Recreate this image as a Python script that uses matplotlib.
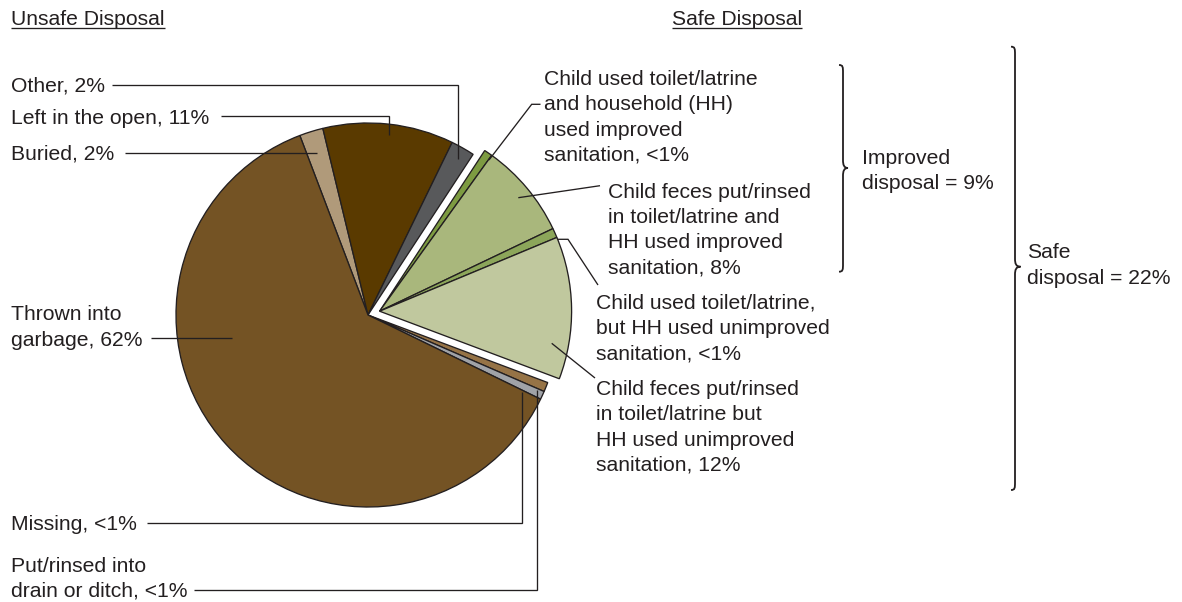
import matplotlib
matplotlib.use("Agg")
import matplotlib.pyplot as plt
from matplotlib.path import Path
from matplotlib.patches import PathPatch
import numpy as np

W, H = 1182, 602

# Child feces disposal categories, listed clockwise from the top of the pie
categories = [
    "Buried",
    "Left in the open",
    "Other",
    "Child used toilet/latrine, HH improved",
    "Child feces put/rinsed in toilet/latrine, HH improved",
    "Child used toilet/latrine, HH unimproved",
    "Child feces put/rinsed in toilet/latrine, HH unimproved",
    "Put/rinsed into drain or ditch",
    "Missing",
    "Thrown into garbage",
]
shares = [2, 11, 2, 0.7, 8, 0.8, 12, 0.8, 0.7, 62]
is_safe = [False, False, False, True, True, True, True, False, False, False]
colors = ["#b09a7a", "#5a3a00", "#58595b", "#7d9b41", "#a9b77c",
          "#8ca65a", "#c0c89e", "#967346", "#a0a3a8", "#745324"]

# Label texts: (x, baseline y of first line, text)
left_labels = [
    (11, 92, "Other, 2%"),
    (11, 124, "Left in the open, 11%"),
    (11, 159, "Buried, 2%"),
    (11, 320.5, "Thrown into\ngarbage, 62%"),
    (11, 530, "Missing, <1%"),
    (11, 571.5, "Put/rinsed into\ndrain or ditch, <1%"),
]
right_labels = [
    (544.5, 85, "Child used toilet/latrine\nand household (HH)\nused improved\nsanitation, <1%"),
    (608.5, 197.5, "Child feces put/rinsed\nin toilet/latrine and\nHH used improved\nsanitation, 8%"),
    (596, 308.5, "Child used toilet/latrine,\nbut HH used unimproved\nsanitation, <1%"),
    (596, 395, "Child feces put/rinsed\nin toilet/latrine but\nHH used unimproved\nsanitation, 12%"),
]
group_labels = [
    (861.5, 163.5, "Improved\ndisposal = 9%"),
    (1027, 258.5, "Safe\ndisposal = 22%"),
]
headings = [(11, "Unsafe Disposal"), (672, "Safe Disposal")]

# Leader lines (screen-style coordinates, y measured from the top)
leaders = [
    [(112, 84.5), (458, 84.5), (458, 159)],
    [(221, 116), (389, 116), (389, 135)],
    [(125, 152.7), (317, 152.7)],
    [(150.7, 337.7), (231.7, 337.7)],
    [(146.7, 523), (521.7, 523), (521.7, 391.7)],
    [(194, 589.5), (536.7, 589.5), (536.7, 390)],
    [(540.5, 104.3), (531.7, 104.3), (489, 160)],
    [(600, 185.7), (518.3, 197.7)],
    [(558, 239.3), (568, 239.3), (598, 285)],
    [(595, 378), (551.7, 343.3)],
]

# Curly braces: (stem x, top y, bottom y, tip y, tip width)
braces = [
    (843, 65, 271.7, 168, 5),
    (1015, 46.7, 490, 266.7, 5.5),
]

INK = "#231f20"
FONT = ["Liberation Sans", "DejaVu Sans"]
FS = 15.25
PITCH = 25.3
GAP = 12.2


def Y(y):
    return H - y


fig = plt.figure(figsize=(W / 100, H / 100), dpi=100)
ax = fig.add_axes([0, 0, 1, 1])

cx, cy, R = 368, Y(315), 192
wedges, _ = ax.pie(
    shares, colors=colors, startangle=110.8, counterclock=False,
    center=(cx, cy), radius=R,
    wedgeprops=dict(edgecolor=INK, linewidth=0.95),
)

# Pull the safe-disposal slices out together along the group's mid-angle
safe_wedges = [w for w, s in zip(wedges, is_safe) if s]
lo = min(w.theta1 for w in safe_wedges)
hi = max(w.theta2 for w in safe_wedges)
mid = np.deg2rad((lo + hi) / 2)
for w in safe_wedges:
    w.set_center((cx + GAP * np.cos(mid), cy + GAP * np.sin(mid)))

ax.set_xlim(0, W)
ax.set_ylim(0, H)
ax.set_axis_off()


def label(x, y, text):
    for i, line in enumerate(text.split("\n")):
        ax.text(x, Y(y + i * PITCH), line, fontsize=FS, color=INK,
                family=FONT, ha="left", va="baseline")


for x, y, t in left_labels + right_labels + group_labels:
    label(x, y, t)

for pts in leaders:
    xs = [p[0] for p in pts]
    ys = [Y(p[1]) for p in pts]
    ax.plot(xs, ys, color=INK, lw=0.95, solid_capstyle="butt",
            solid_joinstyle="miter")

# Underlined section headings
heads = []
for x, s in headings:
    heads.append(ax.text(x, Y(25), s, fontsize=FS, color=INK, family=FONT,
                         ha="left", va="baseline"))
fig.canvas.draw()
renderer = fig.canvas.get_renderer()
for t in heads:
    bb = t.get_window_extent(renderer)
    ax.plot([bb.x0, bb.x1], [Y(28), Y(28)], color=INK, lw=0.95,
            solid_capstyle="butt")


def brace(x0, top, bot, tip, w):
    h, r = 4, 8
    verts = [
        (x0 - h, top),
        (x0, top), (x0, top + 2), (x0, top + r),
        (x0, tip - r),
        (x0, tip - 3), (x0 + 1, tip), (x0 + w, tip),
        (x0 + 1, tip), (x0, tip + 3), (x0, tip + r),
        (x0, bot - r),
        (x0, bot - 2), (x0, bot), (x0 - h, bot),
    ]
    codes = ([Path.MOVETO] + [Path.CURVE4] * 3 + [Path.LINETO]
             + [Path.CURVE4] * 6 + [Path.LINETO] + [Path.CURVE4] * 3)
    verts = [(vx, Y(vy)) for vx, vy in verts]
    ax.add_patch(PathPatch(Path(verts, codes), fill=False, edgecolor=INK,
                           lw=1.3, capstyle="butt"))


for b in braces:
    brace(*b)

fig.savefig("out.png", dpi=100, facecolor="white")
